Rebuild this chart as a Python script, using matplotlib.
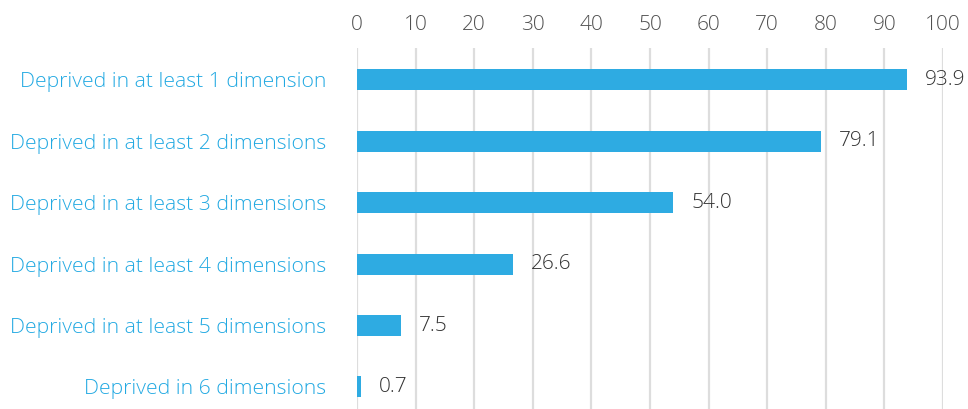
import matplotlib.pyplot as plt
from matplotlib.transforms import offset_copy

categories = ['Deprived in at least 1 dimension',
              'Deprived in at least 2 dimensions',
              'Deprived in at least 3 dimensions',
              'Deprived in at least 4 dimensions',
              'Deprived in at least 5 dimensions',
              'Deprived in 6 dimensions']
values = [93.9, 79.1, 54.0, 26.6, 7.5, 0.7]
ticks = [0, 10, 20, 30, 40, 50, 60, 70, 80, 90, 100]

plt.rcParams['font.family'] = ['Open Sans', 'DejaVu Sans']

fig = plt.figure(figsize=(9.68, 4.09), dpi=100)
ax = fig.add_axes([357 / 968, 0, 586 / 968, 1 - 48 / 409])

y = list(range(len(categories)))
ax.barh(y, values, height=0.34, color='#2eabe2', zorder=3)
ax.set_xlim(0, 100)
ax.set_ylim(5.36, -0.52)

ax.set_xticks(ticks)
ax.xaxis.tick_top()
ax.tick_params(axis='x', length=0, pad=9, labelsize=15, labelcolor='#505050')
ax.set_yticks(y)
ax.set_yticklabels(categories)
ax.tick_params(axis='y', length=0, pad=22, labelsize=15.2, labelcolor='#22a9e2')
for lab in ax.get_xticklabels() + ax.get_yticklabels():
    lab.set_fontweight('light')

ax.grid(axis='x', color='#dddddd', linewidth=1.6, zorder=0)
for s in ax.spines.values():
    s.set_visible(False)

trans = offset_copy(ax.transData, fig=fig, x=18, y=0, units='dots')
for yi, v in zip(y, values):
    ax.text(v, yi, f'{v:.1f}', transform=trans, va='center', ha='left',
            fontsize=15, color='#333333', fontweight='light')

fig.savefig('out.png', dpi=100)
